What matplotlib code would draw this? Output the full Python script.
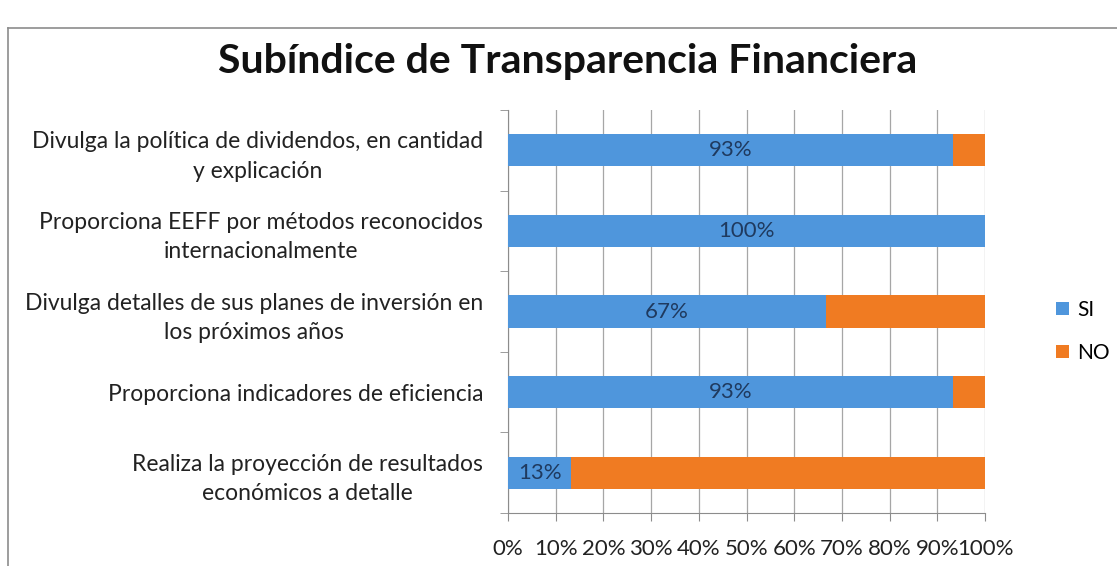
import matplotlib
matplotlib.use("Agg")
import matplotlib.pyplot as plt
from matplotlib.lines import Line2D
import numpy as np

categories = [
    "Divulga la política de dividendos, en cantidad\ny explicación",
    "Proporciona EEFF por métodos reconocidos\ninternacionalmente",
    "Divulga detalles de sus planes de inversión en\nlos próximos años",
    "Proporciona indicadores de eficiencia",
    "Realiza la proyección de resultados\neconómicos a detalle",
]
si_values = [93.3, 100.0, 66.7, 93.3, 13.3]
no_values = [6.7, 0.0, 33.3, 6.7, 86.7]
xtick_labels = ["0%", "10%", "20%", "30%", "40%", "50%", "60%", "70%", "80%", "90%", "100%"]
series_names = ["SI", "NO"]

BLUE = "#4F96DC"
ORANGE = "#F07B22"
LABEL_FONT = ["Lato", "DejaVu Sans"]

fig = plt.figure(figsize=(11.17, 5.66), dpi=100)
fig.patch.set_facecolor("white")

# chart border
fig.add_artist(Line2D([8/1117, 8/1117], [0, 1 - 28/566], transform=fig.transFigure, color="#8C8C8C", lw=1.2))
fig.add_artist(Line2D([8/1117, 1], [1 - 28/566, 1 - 28/566], transform=fig.transFigure, color="#8C8C8C", lw=1.2))

ax = fig.add_axes([508/1117, 1 - 513/566, 477/1117, 403/566])

y = np.arange(len(categories))
h = 0.4
ax.barh(y, si_values, height=h, color=BLUE, label=series_names[0], zorder=3)
ax.barh(y, no_values, left=si_values, height=h, color=ORANGE, label=series_names[1], zorder=3)

for yi, v in zip(y, si_values):
    ax.text(v / 2, yi, f"{v:.0f}%", ha="center", va="center", fontsize=16,
            color="#1F3A5F", family=LABEL_FONT, zorder=4)

ax.set_xlim(0, 100)
ax.set_ylim(len(categories) - 0.5, -0.5)
ax.set_xticks(np.arange(0, 101, 10))
ax.set_xticklabels(xtick_labels, fontsize=16, family=LABEL_FONT, color="#222222")
ax.set_yticks(y)
ax.set_yticklabels(categories, fontsize=16.5, family=LABEL_FONT, color="#222222",
                   ha="right", multialignment="center", linespacing=1.5)
ax.tick_params(axis="y", length=0, pad=18)
ax.set_yticks(np.arange(-0.5, len(categories) + 0.5, 1), minor=True)
ax.tick_params(axis="y", which="minor", length=6, color="#8C8C8C", direction="out")
ax.tick_params(axis="x", length=6, color="#8C8C8C", direction="out", pad=13)

ax.grid(axis="x", color="#A6A6A6", lw=0.9, zorder=0)
for s in ["top", "right"]:
    ax.spines[s].set_visible(False)
for s in ["left", "bottom"]:
    ax.spines[s].set_color("#8C8C8C")

fig.text(568/1117, 1 - 62/566, "Subíndice de Transparencia Financiera",
         ha="center", va="center", fontsize=29.5, fontweight="bold",
         family=LABEL_FONT, color="#111111")

leg = ax.legend(loc="center left", bbox_to_anchor=(1.11, 0.45), frameon=False,
                prop={"family": LABEL_FONT, "size": 15}, handlelength=0.6, handleheight=0.6,
                labelspacing=1.1, handletextpad=0.4)

fig.savefig("out.png", dpi=100)
